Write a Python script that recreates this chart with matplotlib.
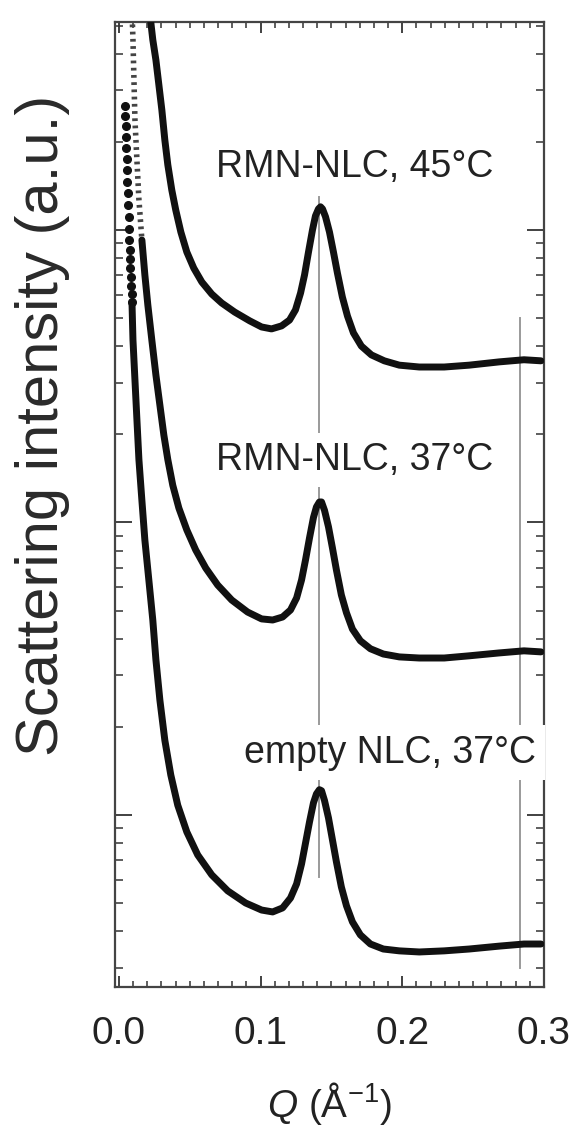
import matplotlib
matplotlib.use("Agg")
import matplotlib.pyplot as plt
from matplotlib.ticker import LogLocator, MultipleLocator, NullFormatter

plt.rcParams['font.family'] = ['Liberation Sans', 'DejaVu Sans']
plt.rcParams['mathtext.fontset'] = 'custom'
plt.rcParams['mathtext.rm'] = 'Liberation Sans'
plt.rcParams['mathtext.it'] = 'Liberation Sans:italic'

# ---- data (Q in 1/Angstrom, intensity in a.u., log scale) ----
# RMN-NLC, 45 C (top curve)
q_45 = [0.0211, 0.0239, 0.0261, 0.0282, 0.0303, 0.0324, 0.0345, 0.0373, 0.0401, 0.0437,
        0.0479, 0.0528, 0.0585, 0.0655, 0.0725, 0.0817, 0.0923, 0.1007, 0.1077, 0.1148,
        0.1204, 0.1246, 0.1282, 0.1310, 0.1338, 0.1366, 0.1387, 0.1408, 0.1423, 0.1437,
        0.1458, 0.1486, 0.1514, 0.1542, 0.1577, 0.1613, 0.1655, 0.1711, 0.1782, 0.1873,
        0.1979, 0.2120, 0.2296, 0.2472, 0.2683, 0.2859, 0.2979]
i_45 = [588, 447, 381, 313, 257, 203, 167, 137, 117, 98.4,
        84.1, 74.1, 66.4, 60.4, 56.3, 52.4, 48.9, 46.6, 45.9, 47.0,
        49.2, 53.3, 60.9, 70.2, 84.1, 100, 111.7, 118, 120, 118,
        111, 98.4, 84.1, 71.3, 59.0, 50.8, 44.5, 40.1, 37.4, 35.7,
        34.5, 34.0, 34.0, 34.5, 35.4, 36.0, 35.7]

# RMN-NLC, 37 C (middle curve); the first points are the sparse low-Q data
q_37 = [0.0092, 0.0099, 0.0106, 0.0113, 0.0127, 0.0141, 0.0162, 0.0183, 0.0204, 0.0232,
        0.0261, 0.0289, 0.0317, 0.0345, 0.0380, 0.0423, 0.0479, 0.0542, 0.0613, 0.0697,
        0.0796, 0.0908, 0.1007, 0.1085, 0.1155, 0.1211, 0.1254, 0.1289, 0.1317, 0.1345,
        0.1373, 0.1394, 0.1415, 0.1430, 0.1451, 0.1479, 0.1507, 0.1535, 0.1570, 0.1606,
        0.1648, 0.1704, 0.1775, 0.1866, 0.1979, 0.2120, 0.2296, 0.2472, 0.2683, 0.2859,
        0.2979]
i_37 = [565, 447, 326, 238, 173, 127, 92.4, 70.2, 55.4, 42.1,
        31.9, 25.2, 19.9, 16.4, 13.4, 11.2, 9.43, 8.05, 6.98, 6.11,
        5.43, 4.94, 4.68, 4.64, 4.75, 5.02, 5.52, 6.36, 7.45, 8.85,
        10.4, 11.3, 11.75, 11.75, 11.0, 9.66, 8.18, 6.88, 5.65, 4.91,
        4.32, 3.94, 3.70, 3.55, 3.47, 3.44, 3.44, 3.50, 3.58, 3.64,
        3.61]
n_sparse_37 = 7

# empty NLC, 37 C (bottom curve): sparse low-Q points, then dense data
q_empty_pts = [0.0042, 0.0045, 0.0047, 0.0050, 0.0052, 0.0055, 0.0058, 0.0060, 0.0063, 0.0065,
               0.0068, 0.0071, 0.0073, 0.0076, 0.0078, 0.0081, 0.0084, 0.0086, 0.0089, 0.0091]
i_empty_pts = [265.5, 245.4, 226.8, 208.0, 190.7, 174.9, 160.4, 145.9, 133.8, 121.7,
               110.8, 100.8, 92.4, 85.4, 79.6, 74.2, 69.1, 64.4, 60.4, 56.7]
q_empty = [0.0092, 0.0099, 0.0113, 0.0127, 0.0141, 0.0162, 0.0183, 0.0211, 0.0239, 0.0261,
           0.0289, 0.0324, 0.0366, 0.0415, 0.0479, 0.0556, 0.0655, 0.0768, 0.0894, 0.1007,
           0.1085, 0.1155, 0.1211, 0.1254, 0.1289, 0.1317, 0.1345, 0.1373, 0.1394, 0.1415,
           0.1430, 0.1451, 0.1479, 0.1507, 0.1535, 0.1570, 0.1606, 0.1648, 0.1704, 0.1775,
           0.1866, 0.1979, 0.2120, 0.2296, 0.2472, 0.2683, 0.2859, 0.2979]
i_empty = [56.7, 42.1, 30.7, 22.4, 16.4, 11.9, 8.71, 6.36, 4.64, 3.39,
           2.47, 1.80, 1.37, 1.08, 0.875, 0.730, 0.624, 0.550, 0.500, 0.473,
           0.466, 0.481, 0.520, 0.581, 0.680, 0.802, 0.946, 1.10, 1.18, 1.22,
           1.21, 1.12, 0.977, 0.822, 0.691, 0.567, 0.489, 0.431, 0.389, 0.362,
           0.348, 0.343, 0.340, 0.343, 0.348, 0.356, 0.362, 0.362]

# reference positions (first- and second-order peak) and their vertical extent
peak_q = [0.1415, 0.283]
peak_lo = [0.614, 0.30]
peak_hi = [130, 50]

labels = ["RMN-NLC, 45°C", "RMN-NLC, 37°C", "empty NLC, 37°C"]
label_x = [0.1665, 0.1665, 0.1910]
label_y = [152, 15.1, 1.51]

xticks = [0.0, 0.1, 0.2, 0.3]
xticklabels = ["0.0", "0.1", "0.2", "0.3"]

# ---- figure ----
fig = plt.figure(figsize=(5.72, 11.42), dpi=100)
ax = fig.add_axes([0.201, 0.1357, 0.750, 0.845])
ax.set_yscale('log')
ax.set_xlim(-0.0028, 0.300)
ax.set_ylim(0.258, 514)

curve_kw = dict(color='#111111', lw=5.0, solid_capstyle='round', solid_joinstyle='round', zorder=4)
ax.plot(q_45, i_45, **curve_kw)
ax.plot(q_37[n_sparse_37 - 1:], i_37[n_sparse_37 - 1:], **curve_kw)
ax.plot(q_37[:n_sparse_37], i_37[:n_sparse_37], color='#444444', lw=4.0,
        linestyle=(0, (0.5, 0.8)), dash_capstyle='butt', zorder=4)
ax.plot(q_empty, i_empty, **curve_kw)
ax.plot(q_empty_pts, i_empty_pts, linestyle='none', marker='o', ms=5.5,
        color='#111111', zorder=4)

for q, lo, hi in zip(peak_q, peak_lo, peak_hi):
    ax.plot([q, q], [lo, hi], color='#9a9a9a', lw=1.4, zorder=2)

for t, x, y in zip(labels, label_x, label_y):
    ax.text(x, y, t, fontsize=27, ha='center', va='baseline', color='#222222',
            zorder=3, bbox=dict(boxstyle='square,pad=0.25', fc='white', ec='none'))

ax.set_xticks(xticks)
ax.set_xticklabels(xticklabels)
ax.xaxis.set_minor_locator(MultipleLocator(0.01))
ax.yaxis.set_major_locator(LogLocator(base=10))
ax.yaxis.set_minor_locator(LogLocator(base=10, subs=[2, 3, 4, 5, 6, 7, 8, 9]))
ax.yaxis.set_major_formatter(NullFormatter())
ax.yaxis.set_minor_formatter(NullFormatter())

ax.tick_params(axis='x', which='major', direction='in', top=True, bottom=True,
               length=8, width=1.3, labelsize=28, pad=21, colors='#333333')
ax.tick_params(axis='x', which='minor', direction='in', top=True, bottom=True,
               length=4.5, width=1.1, colors='#333333')
ax.tick_params(axis='y', which='major', direction='in', left=True, right=True,
               length=12, width=1.3, colors='#333333')
ax.tick_params(axis='y', which='minor', direction='in', left=True, right=True,
               length=6, width=1.1, colors='#333333')
ax.tick_params(axis='x', labelcolor='#222222')
for s in ax.spines.values():
    s.set_color('#444444')
    s.set_linewidth(1.6)

ax.set_xlabel(r'$Q$ (Å$^{\mathregular{-1}}$)', fontsize=28, color='#222222', labelpad=20)
ax.set_ylabel('Scattering intensity (a.u.)', fontsize=43, color='#2a2a2a')
ax.yaxis.set_label_coords(-0.105, 0.582)

fig.savefig('out.png', dpi=100)
